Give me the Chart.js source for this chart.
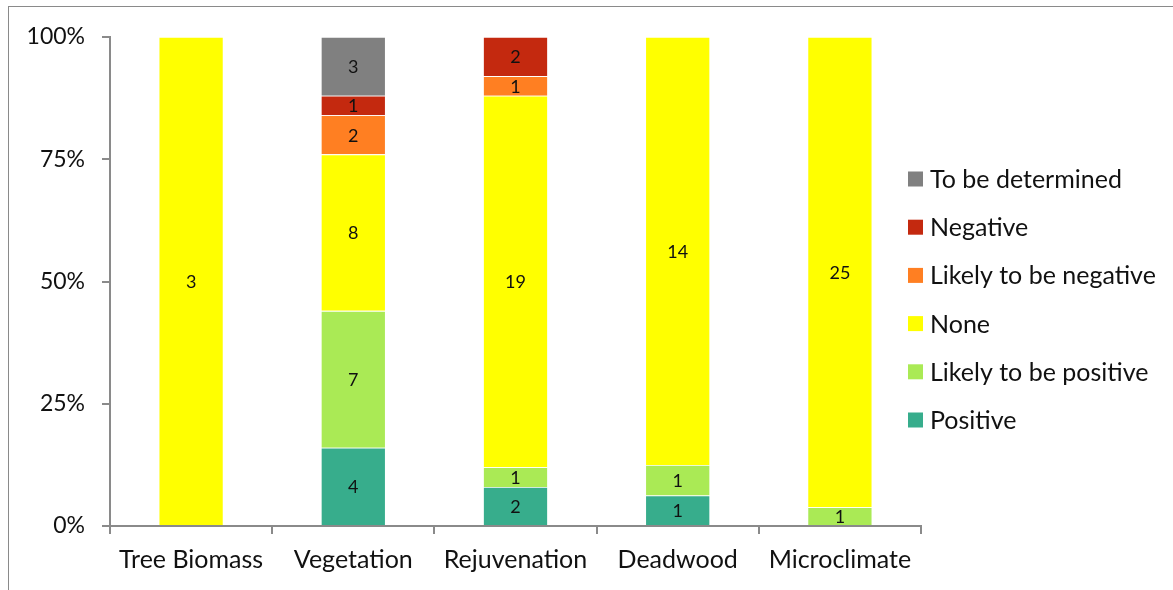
<!DOCTYPE html>
<html>
<head>
<meta charset="utf-8">
<script src="https://cdn.jsdelivr.net/npm/chart.js@4"></script>
<style>
  html, body { margin: 0; padding: 0; background: #fff; }
  #wrap { position: relative; width: 1173px; height: 590px; overflow: hidden; }
  #frame { position: absolute; left: 8px; top: 6px; width: 1400px; height: 800px;
           border-left: 1.5px solid #8a8a8a; border-top: 1.5px solid #8a8a8a; pointer-events: none; }
  canvas { position: absolute; left: 0; top: 0; }
</style>
</head>
<body>
<div id="wrap">
  <canvas id="c" width="1173" height="590"></canvas>
  <div id="frame"></div>
</div>
<script>
const categories = ["Tree Biomass", "Vegetation", "Rejuvenation", "Deadwood", "Microclimate"];
const positive        = [0, 4, 2, 1, 0];
const likelyPositive  = [0, 7, 1, 1, 1];
const none            = [3, 8, 19, 14, 25];
const likelyNegative  = [0, 2, 1, 0, 0];
const negative        = [0, 1, 2, 0, 0];
const toBeDetermined  = [0, 3, 0, 0, 0];
const yTickLabels = ["0%", "25%", "50%", "75%", "100%"];

const seriesNames  = ["Positive", "Likely to be positive", "None", "Likely to be negative", "Negative", "To be determined"];
const seriesCounts = [positive, likelyPositive, none, likelyNegative, negative, toBeDetermined];
const seriesColors = ["#37AD8C", "#AAEA55", "#FFFF00", "#FF7F22", "#C4290F", "#808080"];

const totals = categories.map((_, i) => seriesCounts.reduce((s, arr) => s + arr[i], 0));

const datasets = seriesNames.map((name, k) => ({
  label: name,
  counts: seriesCounts[k],
  data: seriesCounts[k].map((v, i) => v / totals[i] * 100),
  backgroundColor: seriesColors[k],
  borderColor: "rgba(255,255,255,0.35)",
  borderWidth: 0.8,
  barPercentage: 0.4,
  categoryPercentage: 1.0
}));

const FONT = "Lato, 'Open Sans', sans-serif";

const labelPlugin = {
  id: "segLabels",
  afterDatasetsDraw(chart) {
    const ctx = chart.ctx;
    ctx.save();
    ctx.font = "18px " + FONT;
    ctx.fillStyle = "#111";
    ctx.textAlign = "center";
    ctx.textBaseline = "middle";
    chart.data.datasets.forEach((ds, di) => {
      const meta = chart.getDatasetMeta(di);
      meta.data.forEach((el, i) => {
        const v = ds.counts[i];
        if (!v) return;
        ctx.fillText(String(v), el.x, (el.y + el.base) / 2 + 1);
      });
    });
    ctx.restore();
  }
};

const legendPlugin = {
  id: "sideLegend",
  afterDraw(chart) {
    const ctx = chart.ctx;
    const ds = chart.data.datasets.slice().reverse();
    const x0 = chart.chartArea.right - 13;
    const y0 = 179, step = 48.2;
    ctx.save();
    ctx.font = "25px " + FONT;
    ctx.textBaseline = "middle";
    ctx.textAlign = "left";
    ds.forEach((d, i) => {
      const y = y0 + i * step;
      ctx.fillStyle = d.backgroundColor;
      ctx.fillRect(x0, y - 7.5, 15, 15);
      ctx.fillStyle = "#111";
      ctx.fillText(d.label, x0 + 22, y + 1);
    });
    ctx.restore();
  }
};

new Chart(document.getElementById("c"), {
  type: "bar",
  data: { labels: categories, datasets },
  options: {
    responsive: false,
    animation: false,
    layout: { padding: { top: 37, right: 252, bottom: 0, left: 0 } },
    plugins: { legend: { display: false }, tooltip: { enabled: false } },
    scales: {
      x: {
        stacked: true,
        afterFit(s) { s.height = 64; },
        grid: { drawOnChartArea: false, drawTicks: true, tickLength: 8, color: "#8a8a8a", lineWidth: 2, offset: true },
        border: { color: "#8a8a8a", width: 2 },
        ticks: { color: "#111", font: { family: FONT, size: 25 }, padding: 11, maxRotation: 0 }
      },
      y: {
        stacked: true,
        min: 0, max: 100,
        afterFit(s) { s.width = 110; },
        grid: { drawOnChartArea: false, drawTicks: true, tickLength: 8, color: "#8a8a8a", lineWidth: 2 },
        border: { color: "#8a8a8a", width: 2 },
        ticks: {
          stepSize: 25,
          color: "#111",
          font: { family: FONT, size: 23 },
          padding: 17,
          callback: (v) => yTickLabels[Math.round(v / 25)]
        }
      }
    }
  },
  plugins: [labelPlugin, legendPlugin]
});
</script>
</body>
</html>
